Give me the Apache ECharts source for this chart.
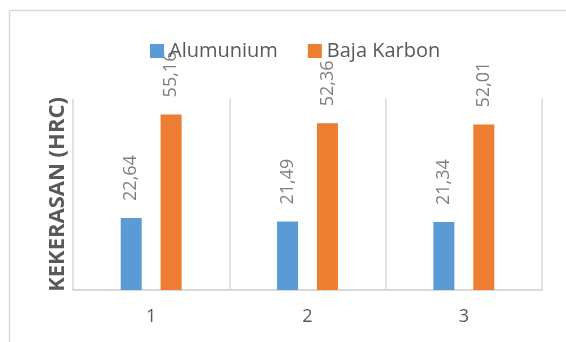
<!DOCTYPE html>
<html>
<head>
<meta charset="utf-8">
<script src="https://cdn.jsdelivr.net/npm/echarts@6/dist/echarts.min.js"></script>
<style>
html,body{margin:0;padding:0;background:#fff;}
#chart{width:566px;height:342px;}
</style>
</head>
<body>
<div id="chart"></div>
<script>
const categories = ['1', '2', '3'];
const aluminium = [22.64, 21.49, 21.34];
const bajaKarbon = [55.16, 52.36, 52.01];
const seriesNames = ['Alumunium', 'Baja Karbon'];
const yAxisTitle = 'KEKERASAN (HRC)';

const FONT = '"Open Sans", sans-serif';
const chart = echarts.init(document.getElementById('chart'), null, {renderer: 'canvas'});

const labelCfg = {
  show: true,
  position: 'top',
  rotate: 90,
  align: 'left',
  verticalAlign: 'middle',
  distance: 15,
  offset: [2, 0],
  color: '#7f7f7f',
  fontFamily: FONT,
  fontSize: 18,
  formatter: p => p.value.toFixed(2).replace('.', ',')
};

chart.setOption({
  animation: false,
  backgroundColor: '#ffffff',
  graphic: [{
    type: 'rect',
    left: 7, top: 8,
    shape: {width: 620, height: 400},
    style: {fill: 'none', stroke: '#d9d9d9', lineWidth: 1.5},
    silent: true
  }],
  legend: {
    left: 145,
    top: 36,
    itemWidth: 14,
    itemHeight: 14,
    itemGap: 30,
    icon: 'rect',
    textStyle: {color: '#595959', fontFamily: FONT, fontSize: 20},
    data: seriesNames
  },
  grid: {left: 73, right: 24, top: 99, bottom: 52},
  xAxis: {
    type: 'category',
    data: categories,
    axisLine: {show: true, lineStyle: {color: '#d9d9d9', width: 2}},
    axisTick: {show: false},
    axisLabel: {color: '#595959', fontFamily: FONT, fontSize: 18, margin: 18},
    splitLine: {show: true, lineStyle: {color: '#d9d9d9', width: 1.5}}
  },
  yAxis: {
    type: 'value',
    min: 0,
    max: 60,
    interval: 10,
    name: yAxisTitle,
    nameLocation: 'middle',
    nameGap: 4,
    nameTextStyle: {color: '#595959', fontFamily: FONT, fontSize: 22, fontWeight: 'bold', padding: [0, 0, 0, 0]},
    axisLine: {show: false},
    axisTick: {show: false},
    axisLabel: {show: false},
    splitLine: {show: false}
  },
  series: [
    {
      name: seriesNames[0],
      type: 'bar',
      data: aluminium,
      barWidth: 21,
      barGap: '90%',
      itemStyle: {color: '#5b9bd5'},
      label: labelCfg
    },
    {
      name: seriesNames[1],
      type: 'bar',
      data: bajaKarbon,
      barWidth: 21,
      barGap: '90%',
      itemStyle: {color: '#ed7d31'},
      label: labelCfg
    }
  ]
});
</script>
</body>
</html>
